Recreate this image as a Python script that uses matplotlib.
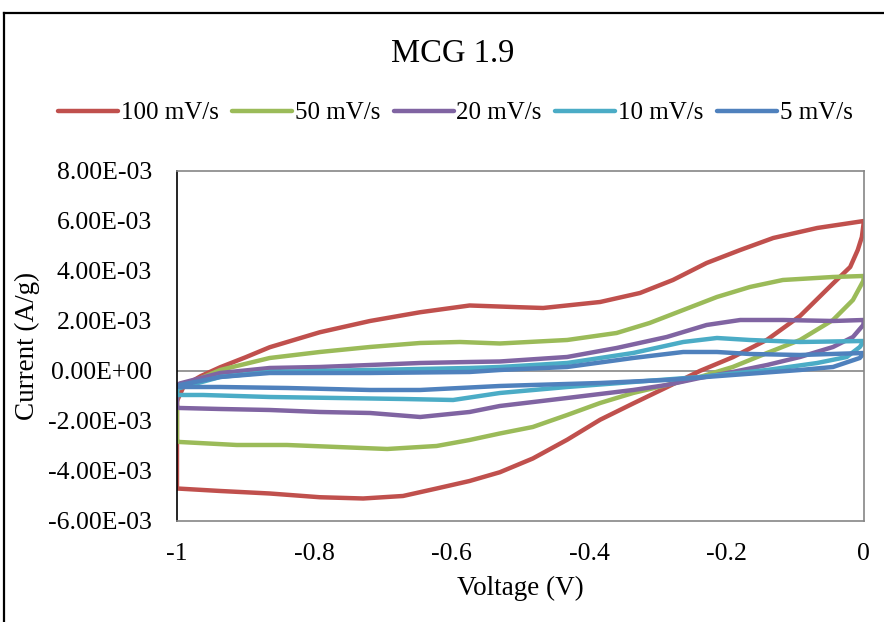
import numpy as np
import matplotlib.pyplot as plt
from matplotlib.lines import Line2D
from matplotlib.ticker import FuncFormatter

plt.rcParams["font.family"] = ["Liberation Serif", "DejaVu Serif"]

# Cyclic voltammetry loops, voltage in V, current in mA/g (forward sweep then reverse)
v_100 = [-1.0, -0.99, -0.965, -0.937, -0.9, -0.865, -0.792, -0.719, -0.646, -0.574, -0.501, -0.467,
         -0.384, -0.326, -0.278, -0.229, -0.180, -0.132, -0.068, 0.0,
         -0.003, -0.009, -0.020, -0.045, -0.093, -0.141, -0.191, -0.239, -0.287, -0.336,
         -0.384, -0.432, -0.482, -0.530, -0.574, -0.622, -0.671, -0.729, -0.792,
         -0.865, -0.937, -1.0, -1.0]
i_100 = [-1.2, -0.6, -0.2, 0.15, 0.55, 0.95, 1.55, 2.0, 2.35, 2.62, 2.55, 2.52,
         2.76, 3.12, 3.64, 4.32, 4.84, 5.32, 5.72, 6.0,
         5.36, 4.84, 4.16, 3.5, 2.2, 1.25, 0.55, 0.0, -0.65, -1.3,
         -1.95, -2.75, -3.5, -4.05, -4.4, -4.7, -5.0, -5.1, -5.05,
         -4.9, -4.8, -4.7, -1.2]

v_50 = [-1.0, -0.996, -0.937, -0.865, -0.792, -0.719, -0.646, -0.588, -0.530, -0.432,
        -0.360, -0.312, -0.263, -0.214, -0.166, -0.118, -0.045, 0.0,
        -0.001, -0.016, -0.045, -0.093, -0.141, -0.191, -0.239, -0.287, -0.336,
        -0.384, -0.432, -0.482, -0.530, -0.574, -0.622, -0.694, -0.767, -0.840,
        -0.913, -0.996, -1.0, -1.0]
i_50 = [-0.8, -0.64, 0.04, 0.52, 0.76, 0.96, 1.12, 1.16, 1.1, 1.24,
        1.52, 1.92, 2.44, 2.96, 3.36, 3.64, 3.76, 3.8,
        3.6, 2.84, 2.04, 1.24, 0.72, 0.16, -0.24, -0.56, -0.88,
        -1.28, -1.76, -2.24, -2.5, -2.76, -3.0, -3.12, -3.04, -2.96,
        -2.96, -2.84, -2.8, -0.8]

v_20 = [-1.0, -0.996, -0.937, -0.865, -0.792, -0.719, -0.646, -0.574, -0.530, -0.432,
        -0.360, -0.287, -0.229, -0.180, -0.118, -0.045, 0.0,
        -0.001, -0.016, -0.045, -0.093, -0.141, -0.191, -0.239, -0.287, -0.336,
        -0.432, -0.530, -0.574, -0.646, -0.719, -0.792, -0.865, -0.937, -0.996,
        -1.0, -1.0]
i_20 = [-0.6, -0.5, -0.08, 0.12, 0.16, 0.24, 0.32, 0.36, 0.38, 0.56,
        0.92, 1.36, 1.84, 2.04, 2.04, 2.0, 2.04,
        1.84, 1.36, 0.96, 0.56, 0.24, -0.04, -0.28, -0.56, -0.76,
        -1.08, -1.4, -1.64, -1.84, -1.68, -1.64, -1.56, -1.52, -1.48,
        -1.45, -0.6]

v_10 = [-1.0, -0.996, -0.937, -0.865, -0.719, -0.574, -0.530, -0.432, -0.336, -0.263,
        -0.214, -0.166, -0.093, 0.0,
        -0.006, -0.025, -0.068, -0.141, -0.239, -0.336, -0.432, -0.530, -0.598,
        -0.671, -0.767, -0.865, -0.962, -1.0, -1.0]
i_10 = [-0.7, -0.68, -0.24, -0.04, 0.04, 0.12, 0.16, 0.32, 0.72, 1.16,
        1.32, 1.24, 1.16, 1.2,
        0.96, 0.56, 0.32, 0.04, -0.24, -0.44, -0.64, -0.88, -1.16,
        -1.12, -1.08, -1.04, -0.96, -0.96, -0.7]

v_5 = [-1.0, -0.996, -0.937, -0.865, -0.719, -0.574, -0.530, -0.432, -0.336, -0.263,
       -0.214, -0.166, -0.093, 0.0,
       -0.006, -0.045, -0.093, -0.191, -0.287, -0.384, -0.482, -0.530, -0.646,
       -0.719, -0.840, -0.937, -0.996, -1.0]
i_5 = [-0.6, -0.56, -0.24, -0.08, -0.08, -0.04, 0.04, 0.16, 0.52, 0.76,
       0.76, 0.68, 0.64, 0.72,
       0.52, 0.16, 0.04, -0.16, -0.36, -0.48, -0.56, -0.6, -0.76,
       -0.76, -0.68, -0.64, -0.64, -0.6]

labels = ["100 mV/s", "50 mV/s", "20 mV/s", "10 mV/s", "5 mV/s"]
colors = ["#C0504D", "#9BBB59", "#8064A2", "#4BACC6", "#4F81BD"]
curves = [(v_100, i_100), (v_50, i_50), (v_20, i_20), (v_10, i_10), (v_5, i_5)]

fig = plt.figure(figsize=(8.84, 6.22), dpi=100)
ax = fig.add_axes([0.2002, 0.1624, 0.7771, 0.5627])

for (v, i), lab, col in zip(curves, labels, colors):
    ax.plot(v, np.array(i) * 1e-3, color=col, lw=3.2, label=lab,
            solid_capstyle="round", solid_joinstyle="round")

ax.axhline(0, color="#868686", lw=1.2, zorder=1)
ax.set_xlim(-1, 0)
ax.set_ylim(-6e-3, 8e-3)
ax.set_xticks(np.linspace(-1, 0, 6))
ax.set_yticks(np.arange(-6e-3, 8.1e-3, 2e-3))
ax.xaxis.set_major_formatter(FuncFormatter(lambda x, _: f"{x:g}"))
ax.yaxis.set_major_formatter(FuncFormatter(lambda y, _: f"{y:.2E}"))
ax.tick_params(axis="x", length=0, pad=16, labelsize=18.5)
ax.tick_params(axis="y", length=0, pad=18, labelsize=18.5)

for side in ["top", "right", "bottom"]:
    ax.spines[side].set_color("#868686")
    ax.spines[side].set_linewidth(1.2)
ax.spines["left"].set_color("black")
ax.spines["left"].set_linewidth(1.2)

ax.set_xlabel("Voltage (V)", fontsize=19.5, labelpad=8)
ax.set_ylabel("Current (A/g)", fontsize=19.5)
ax.yaxis.set_label_coords(-0.2, 0.5)

fig.text(0.512, 0.913, "MCG 1.9", ha="center", va="center", fontsize=23.5)
fig.legend(loc="center", bbox_to_anchor=(0.515, 0.818), ncol=5, frameon=False,
           fontsize=18, handlelength=2.4, handletextpad=0.1, columnspacing=0.55)

# outer chart border
fig.add_artist(Line2D([0.0045, 1.0], [0.979, 0.979], color="black", lw=1.6,
                      transform=fig.transFigure))
fig.add_artist(Line2D([0.0045, 0.0045], [0.0, 0.979], color="black", lw=1.6,
                      transform=fig.transFigure))

fig.savefig("out.png", dpi=100)
